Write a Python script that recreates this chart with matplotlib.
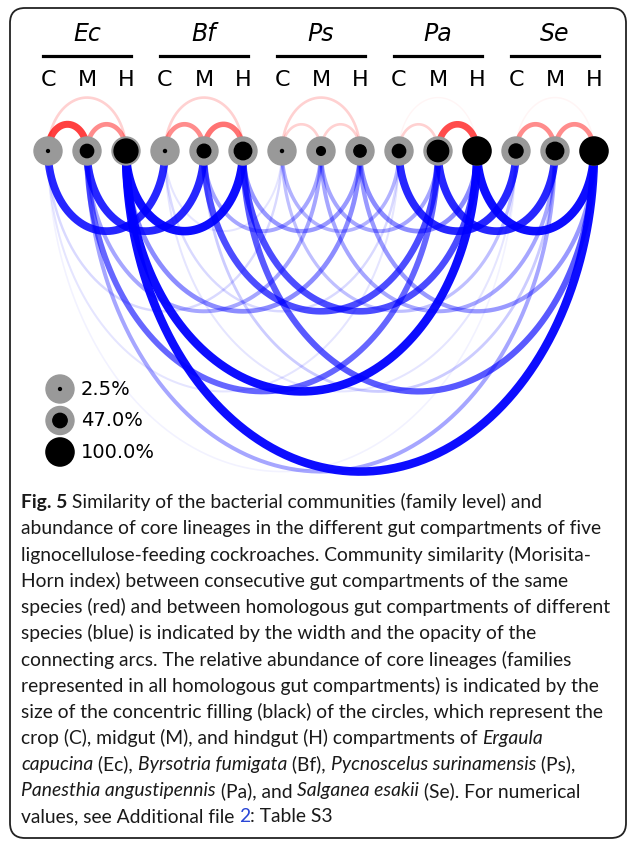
import matplotlib

matplotlib.use("Agg")
import matplotlib.pyplot as plt
import numpy as np
from matplotlib.patches import Circle, FancyBboxPatch

species = ["Ec", "Bf", "Ps", "Pa", "Se"]
compartments = ["C", "M", "H"]

# relative abundance of core lineages (%) per species
core_crop = [2.5, 3.0, 3.0, 43.0, 46.0]
core_midgut = [43.0, 44.0, 25.0, 74.0, 59.0]
core_hindgut = [84.0, 59.0, 39.0, 100.0, 100.0]

# Morisita-Horn similarity between consecutive compartments of the same species (red)
sim_CM = [0.75, 0.45, 0.18, 0.18, 0.45]
sim_MH = [0.45, 0.55, 0.18, 0.70, 0.45]
sim_CH = [0.18, 0.18, 0.18, 0.02, 0.04]

# similarity between homologous compartments of different species (blue)
species_pairs = [("Ec", "Bf"), ("Ec", "Ps"), ("Ec", "Pa"), ("Ec", "Se"), ("Bf", "Ps"),
                 ("Bf", "Pa"), ("Bf", "Se"), ("Ps", "Pa"), ("Ps", "Se"), ("Pa", "Se")]
sim_crop = [0.85, 0.15, 0.10, 0.05, 0.10, 0.15, 0.10, 0.30, 0.25, 0.85]
sim_midgut = [0.85, 0.35, 0.60, 0.35, 0.35, 0.70, 0.20, 0.35, 0.35, 0.85]
sim_hindgut = [0.95, 0.45, 0.95, 0.95, 0.40, 0.70, 0.65, 0.45, 0.40, 0.95]

legend_values = [2.5, 47.0, 100.0]

# layout (pixels)
X0, STEP, ROW_Y, R_OUT, K = 48, 39, 151, 14, 1.37


def node_x(sp, comp):
    return X0 + STEP * (3 * species.index(sp) + comp)


def inner_r(pct):
    return R_OUT * (0.08 + 0.92 * pct / 100.0)


def arc(x1, x2, s, color, up):
    t = np.linspace(0, np.pi, 200)
    c, r = (x1 + x2) / 2, abs(x2 - x1) / 2
    sign = -1 if up else 1
    ax.plot(c + r * np.cos(t), ROW_Y + sign * K * r * np.sin(t), color=color,
            lw=(1.3 + 7.6 * s) * 0.72, alpha=max(s, 0.04), solid_capstyle="butt", zorder=1 + s)


fig = plt.figure(figsize=(6.27, 8.41), dpi=100)
ax = fig.add_axes([0, 0, 1, 1])
ax.set_xlim(0, 627)
ax.set_ylim(841, 0)
ax.axis("off")

ax.add_patch(FancyBboxPatch((10, 8), 616, 830, boxstyle="round,pad=0,rounding_size=15",
                            fc="none", ec="#222222", lw=1.3, zorder=0))

# red arcs (within species)
for i, sp in enumerate(species):
    arc(node_x(sp, 0), node_x(sp, 1), sim_CM[i], "red", True)
    arc(node_x(sp, 1), node_x(sp, 2), sim_MH[i], "red", True)
    arc(node_x(sp, 0), node_x(sp, 2), sim_CH[i], "red", True)

# blue arcs (between species)
for comp, sims in enumerate([sim_crop, sim_midgut, sim_hindgut]):
    for (a, b), s in zip(species_pairs, sims):
        arc(node_x(a, comp), node_x(b, comp), s, "blue", False)

# nodes
for i, sp in enumerate(species):
    for comp, vals in enumerate([core_crop, core_midgut, core_hindgut]):
        x = node_x(sp, comp)
        ax.add_patch(Circle((x, ROW_Y), R_OUT, color="#999999", zorder=10))
        ax.add_patch(Circle((x, ROW_Y), inner_r(vals[i]), color="black", zorder=11))
    xm = node_x(sp, 1)
    ax.text(xm, 34, sp, ha="center", va="center", fontsize=17, style="italic")
    ax.plot([node_x(sp, 0) - 5, node_x(sp, 2) + 5], [56, 56], color="black", lw=2.3)
    for comp, lab in enumerate(compartments):
        ax.text(node_x(sp, comp), 80, lab, ha="center", va="center", fontsize=16)

# legend
for j, v in enumerate(legend_values):
    y = 389 + 31.5 * j
    ax.add_patch(Circle((60, y), R_OUT, color="#999999", zorder=10))
    ax.add_patch(Circle((60, y), inner_r(v), color="black", zorder=11))
    ax.text(81, y, f"{v:.1f}%", ha="left", va="center", fontsize=14)

# caption
N, B, I, L = "normal", "bold", "italic", "link"
caption = [
    [("Fig. 5", B), (" Similarity of the bacterial communities (family level) and", N)],
    [("abundance of core lineages in the different gut compartments of five", N)],
    [("lignocellulose-feeding cockroaches. Community similarity (Morisita-", N)],
    [("Horn index) between consecutive gut compartments of the same", N)],
    [("species (red) and between homologous gut compartments of different", N)],
    [("species (blue) is indicated by the width and the opacity of the", N)],
    [("connecting arcs. The relative abundance of core lineages (families", N)],
    [("represented in all homologous gut compartments) is indicated by the", N)],
    [("size of the concentric filling (black) of the circles, which represent the", N)],
    [("crop (C), midgut (M), and hindgut (H) compartments of ", N), ("Ergaula", I)],
    [("capucina", I), (" (Ec), ", N), ("Byrsotria fumigata", I), (" (Bf), ", N),
     ("Pycnoscelus surinamensis", I), (" (Ps),", N)],
    [("Panesthia angustipennis", I), (" (Pa), and ", N), ("Salganea esakii", I),
     (" (Se). For numerical", N)],
    [("values, see Additional file ", N), ("2", L), (": Table S3", N)],
]

renderer = fig.canvas.get_renderer()


def style_kw(kind, fs):
    kw = dict(family="Lato", fontsize=fs, color="#1a1a1a")
    if kind == B:
        kw["weight"] = "bold"
    elif kind == I:
        kw["style"] = "italic"
    elif kind == L:
        kw["color"] = "#2a46d6"
    return kw


def seg_width(s, kw):
    t1 = ax.text(0, 0, s + "|", **kw)
    t2 = ax.text(0, 0, "|", **kw)
    w = t1.get_window_extent(renderer).width - t2.get_window_extent(renderer).width
    t1.remove()
    t2.remove()
    return w


fs = 12 * 583 / seg_width(caption[8][0][0], style_kw(N, 12))
for k, line in enumerate(caption):
    x, y = 21, 502 + 26.25 * k
    for text, kind in line:
        kw = style_kw(kind, fs)
        ax.text(x, y, text, ha="left", va="center", **kw)
        x += seg_width(text, kw)

fig.savefig("out.png", dpi=100)
